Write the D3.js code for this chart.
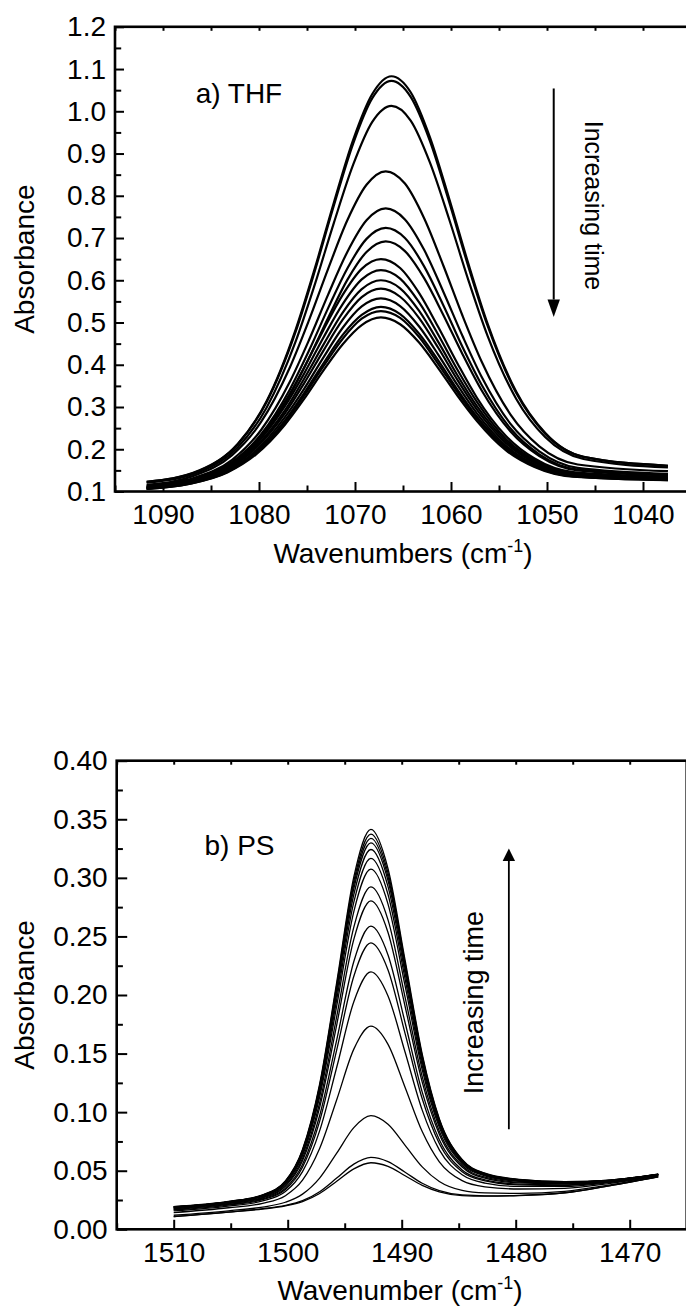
<!DOCTYPE html>
<html>
<head>
<meta charset="utf-8">
<script src="https://cdn.jsdelivr.net/npm/d3@7"></script>
<style>
  html, body { margin: 0; padding: 0; background: #fff; }
  svg { display: block; font-family: "Liberation Sans", Arial, sans-serif; }
</style>
</head>
<body>
<svg id="chart" width="686" height="1309"></svg>
<script>
// ---------- Panel a) THF : wavenumber grids (cm-1) ----------
const thfGridA = [1091.7, 1086.2, 1082.2, 1079.2, 1076.2, 1074.2, 1072.2, 1070.2, 1068.2, 1066.2, 1064.2, 1062.2, 1060.2, 1058.2, 1056.2, 1053.2, 1050.2, 1046.2, 1037.4];
const thfGridB = [1091.7, 1086.8, 1082.8, 1079.8, 1076.8, 1074.8, 1072.8, 1070.8, 1068.8, 1066.8, 1064.8, 1062.8, 1060.8, 1058.8, 1056.8, 1053.8, 1050.8, 1046.8, 1037.4];
const thfGridC = [1091.7, 1087.3, 1083.3, 1080.3, 1077.3, 1075.3, 1073.3, 1071.3, 1069.3, 1067.3, 1065.3, 1063.3, 1061.3, 1059.3, 1057.3, 1054.3, 1051.3, 1047.3, 1037.4];

// absorbance spectra, earliest (top) to latest (bottom)
const thf1  = [0.123, 0.150, 0.213, 0.314, 0.482, 0.627, 0.784, 0.932, 1.041, 1.083, 1.045, 0.939, 0.794, 0.640, 0.498, 0.336, 0.239, 0.182, 0.161];
const thf2  = [0.123, 0.149, 0.212, 0.312, 0.477, 0.621, 0.777, 0.923, 1.031, 1.072, 1.034, 0.930, 0.786, 0.633, 0.493, 0.333, 0.237, 0.182, 0.161];
const thf3  = [0.121, 0.146, 0.205, 0.299, 0.454, 0.589, 0.736, 0.873, 0.975, 1.013, 0.978, 0.879, 0.745, 0.601, 0.469, 0.319, 0.229, 0.177, 0.157];
const thf4  = [0.116, 0.137, 0.186, 0.264, 0.393, 0.505, 0.627, 0.742, 0.826, 0.858, 0.829, 0.747, 0.635, 0.516, 0.407, 0.282, 0.207, 0.164, 0.148];
const thf5  = [0.114, 0.132, 0.175, 0.245, 0.359, 0.458, 0.566, 0.667, 0.742, 0.770, 0.744, 0.672, 0.573, 0.468, 0.371, 0.260, 0.195, 0.156, 0.142];
const thf6  = [0.112, 0.130, 0.170, 0.235, 0.341, 0.433, 0.534, 0.628, 0.698, 0.724, 0.700, 0.633, 0.541, 0.442, 0.352, 0.249, 0.188, 0.152, 0.140];
const thf7  = [0.111, 0.128, 0.166, 0.228, 0.328, 0.416, 0.511, 0.601, 0.667, 0.692, 0.669, 0.605, 0.518, 0.425, 0.339, 0.242, 0.184, 0.150, 0.138];
const thf8  = [0.110, 0.125, 0.161, 0.218, 0.312, 0.393, 0.482, 0.565, 0.627, 0.650, 0.629, 0.569, 0.488, 0.402, 0.322, 0.232, 0.178, 0.146, 0.135];
const thf9  = [0.109, 0.124, 0.158, 0.212, 0.302, 0.379, 0.464, 0.543, 0.602, 0.624, 0.604, 0.547, 0.470, 0.387, 0.312, 0.225, 0.174, 0.144, 0.133];
const thf10 = [0.109, 0.123, 0.155, 0.207, 0.292, 0.367, 0.447, 0.523, 0.579, 0.600, 0.581, 0.527, 0.453, 0.374, 0.302, 0.220, 0.171, 0.142, 0.132];
const thf11 = [0.108, 0.122, 0.153, 0.203, 0.285, 0.356, 0.433, 0.506, 0.560, 0.580, 0.561, 0.510, 0.439, 0.363, 0.294, 0.215, 0.168, 0.140, 0.131];
const thf12 = [0.107, 0.120, 0.150, 0.197, 0.276, 0.343, 0.417, 0.487, 0.538, 0.557, 0.539, 0.490, 0.423, 0.351, 0.285, 0.209, 0.164, 0.138, 0.129];
const thf13 = [0.107, 0.119, 0.147, 0.193, 0.268, 0.333, 0.403, 0.470, 0.518, 0.537, 0.520, 0.473, 0.409, 0.340, 0.277, 0.205, 0.162, 0.137, 0.128];
const thf14 = [0.106, 0.118, 0.146, 0.191, 0.264, 0.327, 0.396, 0.461, 0.509, 0.527, 0.511, 0.465, 0.401, 0.334, 0.273, 0.202, 0.160, 0.136, 0.127];
const thf15 = [0.106, 0.118, 0.145, 0.188, 0.258, 0.319, 0.386, 0.448, 0.494, 0.512, 0.496, 0.452, 0.391, 0.326, 0.267, 0.198, 0.158, 0.135, 0.127];

// ---------- Panel b) PS ----------
const psGrid = [1510, 1505.2, 1502.2, 1500.2, 1498.7, 1497.2, 1495.7, 1494.2, 1492.7, 1491.2, 1489.7, 1488.2, 1486.7, 1484.7, 1482.7, 1479.7, 1475.7, 1471.7, 1467.5];

const ps1  = [0.0194, 0.0238, 0.0294, 0.0413, 0.0681, 0.1239, 0.2109, 0.3008, 0.3413, 0.3078, 0.2295, 0.1496, 0.0945, 0.0596, 0.0479, 0.0426, 0.0407, 0.0420, 0.0470];
const ps2  = [0.0193, 0.0236, 0.0292, 0.0410, 0.0675, 0.1225, 0.2085, 0.2973, 0.3373, 0.3043, 0.2270, 0.1480, 0.0936, 0.0592, 0.0476, 0.0424, 0.0406, 0.0420, 0.0470];
const ps3  = [0.0191, 0.0235, 0.0290, 0.0407, 0.0669, 0.1213, 0.2064, 0.2942, 0.3337, 0.3010, 0.2246, 0.1466, 0.0928, 0.0588, 0.0474, 0.0422, 0.0404, 0.0418, 0.0469];
const ps4  = [0.0190, 0.0234, 0.0289, 0.0404, 0.0663, 0.1201, 0.2041, 0.2908, 0.3299, 0.2977, 0.2222, 0.1450, 0.0919, 0.0584, 0.0471, 0.0420, 0.0403, 0.0418, 0.0469];
const ps5  = [0.0189, 0.0233, 0.0286, 0.0401, 0.0654, 0.1182, 0.2007, 0.2858, 0.3242, 0.2925, 0.2184, 0.1428, 0.0907, 0.0578, 0.0467, 0.0417, 0.0401, 0.0418, 0.0469];
const ps6  = [0.0186, 0.0229, 0.0283, 0.0395, 0.0642, 0.1158, 0.1962, 0.2792, 0.3166, 0.2858, 0.2136, 0.1398, 0.0890, 0.0570, 0.0462, 0.0414, 0.0398, 0.0417, 0.0468];
const ps7  = [0.0183, 0.0227, 0.0280, 0.0388, 0.0628, 0.1128, 0.1907, 0.2712, 0.3074, 0.2776, 0.2077, 0.1362, 0.0870, 0.0560, 0.0456, 0.0410, 0.0396, 0.0415, 0.0467];
const ps8  = [0.0179, 0.0222, 0.0273, 0.0377, 0.0605, 0.1078, 0.1817, 0.2579, 0.2923, 0.2641, 0.1979, 0.1303, 0.0837, 0.0544, 0.0445, 0.0402, 0.0390, 0.0412, 0.0466];
const ps9  = [0.0175, 0.0219, 0.0267, 0.0367, 0.0586, 0.1039, 0.1746, 0.2475, 0.2804, 0.2534, 0.1902, 0.1256, 0.0811, 0.0531, 0.0437, 0.0396, 0.0387, 0.0410, 0.0465];
const ps10 = [0.0169, 0.0212, 0.0259, 0.0351, 0.0553, 0.0969, 0.1617, 0.2286, 0.2588, 0.2342, 0.1763, 0.1171, 0.0764, 0.0507, 0.0422, 0.0386, 0.0379, 0.0407, 0.0464];
const ps11 = [0.0165, 0.0207, 0.0253, 0.0340, 0.0530, 0.0921, 0.1531, 0.2160, 0.2445, 0.2214, 0.1670, 0.1114, 0.0732, 0.0492, 0.0413, 0.0379, 0.0374, 0.0404, 0.0462];
const ps12 = [0.0157, 0.0198, 0.0242, 0.0322, 0.0492, 0.0840, 0.1383, 0.1943, 0.2198, 0.1992, 0.1511, 0.1017, 0.0678, 0.0465, 0.0395, 0.0366, 0.0366, 0.0400, 0.0461];
const ps13 = [0.0143, 0.0184, 0.0222, 0.0287, 0.0419, 0.0689, 0.1106, 0.1538, 0.1734, 0.1579, 0.1211, 0.0834, 0.0576, 0.0415, 0.0363, 0.0344, 0.0350, 0.0392, 0.0457];
const ps14 = [0.0120, 0.0158, 0.0190, 0.0231, 0.0300, 0.0437, 0.0650, 0.0868, 0.0970, 0.0896, 0.0717, 0.0533, 0.0408, 0.0332, 0.0311, 0.0307, 0.0324, 0.0379, 0.0451];
const ps15 = [0.0109, 0.0147, 0.0176, 0.0204, 0.0244, 0.0321, 0.0437, 0.0556, 0.0614, 0.0578, 0.0487, 0.0393, 0.0330, 0.0293, 0.0286, 0.0290, 0.0312, 0.0373, 0.0448];
const ps16 = [0.0108, 0.0146, 0.0173, 0.0200, 0.0237, 0.0306, 0.0410, 0.0516, 0.0568, 0.0537, 0.0457, 0.0375, 0.0320, 0.0288, 0.0283, 0.0287, 0.0311, 0.0373, 0.0448];

// ---------- ticks ----------
const thfXTicks = [1090, 1080, 1070, 1060, 1050, 1040];
const thfXMinor = [1095, 1085, 1075, 1065, 1055, 1045, 1035];
const thfYTicks = [0.1, 0.2, 0.3, 0.4, 0.5, 0.6, 0.7, 0.8, 0.9, 1.0, 1.1, 1.2];
const thfYMinor = [0.15, 0.25, 0.35, 0.45, 0.55, 0.65, 0.75, 0.85, 0.95, 1.05, 1.15];
const psXTicks = [1510, 1500, 1490, 1480, 1470];
const psXMinor = [1515, 1505, 1495, 1485, 1475, 1465];
const psYTicks = [0.00, 0.05, 0.10, 0.15, 0.20, 0.25, 0.30, 0.35, 0.40];
const psYMinor = [0.025, 0.075, 0.125, 0.175, 0.225, 0.275, 0.325, 0.375];

// ---------- annotations (data coordinates) ----------
const thfArrow = {x: 1049.3, from: 1.054, to: 0.513};
const psArrow  = {x: 1480.6, from: 0.0853, to: 0.325};

const svg = d3.select("#chart");

function panel(o) {
  const g = svg.append("g");
  const x = d3.scaleLinear().domain(o.xDomain).range(o.xRange);
  const y = d3.scaleLinear().domain(o.yDomain).range(o.yRange);
  const x0 = o.xRange[0], x1 = o.xRange[1], y0 = o.yRange[0], y1 = o.yRange[1];

  // curves
  const line = d3.line().x(d => x(d[0])).y(d => y(d[1])).curve(d3.curveMonotoneX);
  o.series.forEach(s => {
    g.append("path")
      .datum(s.grid.map((w, i) => [w, s.values[i]]))
      .attr("d", line)
      .attr("fill", "none")
      .attr("stroke", "#000")
      .attr("stroke-width", o.lineWidth)
      .attr("stroke-linejoin", "round");
  });

  const tickStyle = sel => {
    sel.select(".domain").remove();
    sel.selectAll(".tick line").attr("stroke", "#000").attr("stroke-width", 2);
    sel.selectAll(".tick text").attr("fill", "#000").style("font-size", "28px")
       .style("font-family", '"Liberation Sans", Arial, sans-serif');
  };

  // bottom axis (major with labels, minor)
  g.append("g").attr("transform", `translate(0,${y0})`)
    .call(d3.axisBottom(x).tickValues(o.xTicks).tickFormat(d3.format("d"))
      .tickSizeInner(-9.5).tickSizeOuter(0).tickPadding(13))
    .call(tickStyle);
  g.append("g").attr("transform", `translate(0,${y0})`)
    .call(d3.axisBottom(x).tickValues(o.xMinor).tickFormat("").tickSizeInner(-6).tickSizeOuter(0))
    .call(tickStyle);
  // top mirrored ticks (short)
  g.append("g").attr("transform", `translate(0,${y1})`)
    .call(d3.axisTop(x).tickValues(o.xTicks.concat(o.xMinor)).tickFormat("").tickSizeInner(-4).tickSizeOuter(0))
    .call(tickStyle);
  // left axis
  g.append("g").attr("transform", `translate(${x0},0)`)
    .call(d3.axisLeft(y).tickValues(o.yTicks).tickFormat(d3.format(o.yFormat))
      .tickSizeInner(-o.yMajorLen).tickSizeOuter(0).tickPadding(9))
    .call(tickStyle);
  g.append("g").attr("transform", `translate(${x0},0)`)
    .call(d3.axisLeft(y).tickValues(o.yMinor).tickFormat("").tickSizeInner(-6.2).tickSizeOuter(0))
    .call(tickStyle);

  // frame
  g.append("rect")
    .attr("x", x0).attr("y", y1)
    .attr("width", x1 - x0).attr("height", y0 - y1)
    .attr("fill", "none").attr("stroke", "#000").attr("stroke-width", 2.6);

  // axis titles
  const xt = g.append("text")
    .attr("x", o.xTitleX).attr("y", y0 + 71)
    .attr("text-anchor", "middle").style("font-size", "28px").attr("fill", "#000");
  xt.append("tspan").text(o.xTitle + " (cm");
  xt.append("tspan").attr("dy", -11).style("font-size", "18px").text("-1");
  xt.append("tspan").attr("dy", 11).text(")");

  g.append("text")
    .attr("transform", `translate(33.5,${(y0 + y1) / 2}) rotate(-90)`)
    .attr("text-anchor", "middle").style("font-size", "28px").attr("fill", "#000")
    .text("Absorbance");

  // panel label
  g.append("text")
    .attr("x", x(o.label.x)).attr("y", y(o.label.y))
    .style("font-size", "28px").attr("fill", "#000")
    .text(o.label.text);

  // arrow
  const ax = x(o.arrow.x), yFrom = y(o.arrow.from), yTo = y(o.arrow.to);
  const dir = yTo > yFrom ? 1 : -1;
  const headLen = o.arrow.headLen, headHalf = 6.2;
  g.append("line")
    .attr("x1", ax).attr("x2", ax)
    .attr("y1", yFrom).attr("y2", yTo - dir * headLen)
    .attr("stroke", "#000").attr("stroke-width", o.arrow.width);
  g.append("path")
    .attr("d", `M${ax},${yTo} L${ax - headHalf},${yTo - dir * headLen} L${ax + headHalf},${yTo - dir * headLen} Z`)
    .attr("fill", "#000");

  // "Increasing time"
  g.append("text")
    .attr("transform", `translate(${x(o.note.x)},${y(o.note.y)}) rotate(${o.note.rot})`)
    .attr("text-anchor", "middle").style("font-size", o.note.size + "px").attr("fill", "#000")
    .text("Increasing time");
}

panel({
  xDomain: [1095, 1035], xRange: [115, 691],
  yDomain: [0.1, 1.2], yRange: [491.5, 26.8],
  xTicks: thfXTicks, xMinor: thfXMinor, yTicks: thfYTicks, yMinor: thfYMinor, yFormat: ".1f",
  yMajorLen: 9,
  series: [
    {grid: thfGridA, values: thf1}, {grid: thfGridA, values: thf2}, {grid: thfGridA, values: thf3},
    {grid: thfGridB, values: thf4}, {grid: thfGridB, values: thf5}, {grid: thfGridB, values: thf6},
    {grid: thfGridB, values: thf7}, {grid: thfGridC, values: thf8}, {grid: thfGridC, values: thf9},
    {grid: thfGridC, values: thf10}, {grid: thfGridC, values: thf11}, {grid: thfGridC, values: thf12},
    {grid: thfGridC, values: thf13}, {grid: thfGridC, values: thf14}, {grid: thfGridC, values: thf15}
  ],
  lineWidth: 2.2,
  xTitle: "Wavenumbers", xTitleX: 403,
  label: {x: 1086.6, y: 1.019, text: "a) THF"},
  arrow: {x: thfArrow.x, from: thfArrow.from, to: thfArrow.to, headLen: 17.5, width: 2},
  note: {x: 1046.0, y: 0.777, rot: 90, size: 25}
});

panel({
  xDomain: [1515, 1465], xRange: [116.7, 686.7],
  yDomain: [0, 0.4], yRange: [1229.3, 760.7],
  xTicks: psXTicks, xMinor: psXMinor, yTicks: psYTicks, yMinor: psYMinor, yFormat: ".2f",
  yMajorLen: 10.5,
  series: [ps1, ps2, ps3, ps4, ps5, ps6, ps7, ps8, ps9, ps10, ps11, ps12, ps13, ps14, ps15, ps16]
    .map(v => ({grid: psGrid, values: v})),
  lineWidth: 1.3,
  xTitle: "Wavenumber", xTitleX: 400,
  label: {x: 1507.3, y: 0.3194, text: "b) PS"},
  arrow: {x: psArrow.x, from: psArrow.from, to: psArrow.to, headLen: 12.5, width: 1.8},
  note: {x: 1482.9, y: 0.1935, rot: -90, size: 27}
});
</script>
</body>
</html>
